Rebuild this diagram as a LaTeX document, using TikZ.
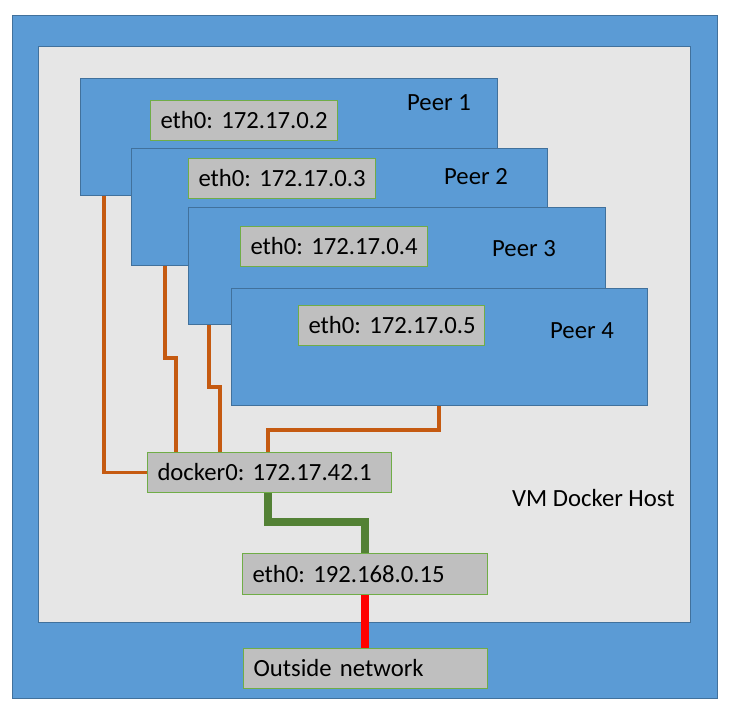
\documentclass[tikz,border=0pt]{standalone}
\usepackage{fontspec}
\setmainfont{Carlito}
\usetikzlibrary{calc}
\frenchspacing
\definecolor{blu}{HTML}{5B9BD5}
\definecolor{bluedge}{HTML}{41719C}
\definecolor{lgray}{HTML}{E6E6E6}
\definecolor{boxgray}{HTML}{BFBFBF}
\definecolor{boxedge}{HTML}{70AD47}
\definecolor{orng}{HTML}{C55A11}
\definecolor{grn}{HTML}{538135}
\tikzset{
  bluebox/.style={draw=bluedge, fill=blu, line width=1pt, anchor=north west, inner sep=0pt},
  ibox/.style={draw=boxedge, fill=boxgray, line width=1pt, anchor=north west, inner xsep=10pt, inner ysep=0pt, align=left, minimum height=40pt, font=\fontsize{24.7}{28}\selectfont},
  lbl/.style={anchor=west, inner sep=0pt, font=\fontsize{24.7}{28}\selectfont},
  oline/.style={draw=orng, line width=3.3pt},
  gline/.style={draw=grn, line width=7.5pt},
  rline/.style={draw=red, line width=7.5pt},
}
\begin{document}
\begin{tikzpicture}[x=1pt, y=-1pt]
\useasboundingbox (0,0) rectangle (732,713);
\node[bluebox, minimum width=705pt, minimum height=683pt] (host) at (12,15) {};
\node[draw=bluedge, fill=lgray, line width=1pt, anchor=north west, inner sep=0pt, minimum width=652pt, minimum height=576pt] (vm) at (38,46) {};
% peers
\node[bluebox, minimum width=417pt, minimum height=117pt] (p1) at (80,78) {};
\node[ibox, text width=167pt] (e1) at (150,99.5) {\mbox{eth0: 172.17.0.2}};
\node[lbl] (l1) at (407,103) {Peer 1};
\node[bluebox, minimum width=416pt, minimum height=117pt] (p2) at (131,148) {};
\node[ibox, text width=167pt] (e2) at (188,158) {\mbox{eth0: 172.17.0.3}};
\node[lbl] (l2) at (444,177) {Peer 2};
\node[bluebox, minimum width=417pt, minimum height=117pt] (p3) at (188,207) {};
\node[ibox, text width=167pt] (e3) at (240,226) {\mbox{eth0: 172.17.0.4}};
\node[lbl] (l3) at (492,249) {Peer 3};
\node[bluebox, minimum width=416pt, minimum height=117pt] (p4) at (231,288) {};
\node[ibox, text width=166pt] (e4) at (298,305) {\mbox{eth0: 172.17.0.5}};
\node[lbl] (l4) at (550,331) {Peer 4};
% host interfaces
\node[ibox, text width=224pt] (dk) at (147,452) {\mbox{docker0: 172.17.42.1}};
\node[ibox, text width=225pt, minimum height=41pt] (eth) at (242,553) {\mbox{eth0: 192.168.0.15}};
\node[ibox, text width=224pt] (out) at (243,648) {\mbox{Outside network}};
\node[lbl] (vml) at (512,498) {VM Docker Host};
% connectors
\draw[oline] ([xshift=24pt]p1.south west) |- (dk.west);
\draw[oline] ([xshift=34pt]p2.south west) -- ++(0,92) -| ([xshift=29pt]dk.north west);
\draw[oline] ([xshift=21pt]p3.south west) -- ++(0,62) -| ([xshift=73pt]dk.north west);
\draw[oline] ([xshift=208pt]p4.south west) -- ++(0,24) -| ([xshift=121pt]dk.north west);
\draw[gline] ([xshift=121pt]dk.south west) -- ++(0,29) -| (eth.north);
\draw[rline] (eth.south) -- (eth.south |- out.north);
\end{tikzpicture}
\end{document}
